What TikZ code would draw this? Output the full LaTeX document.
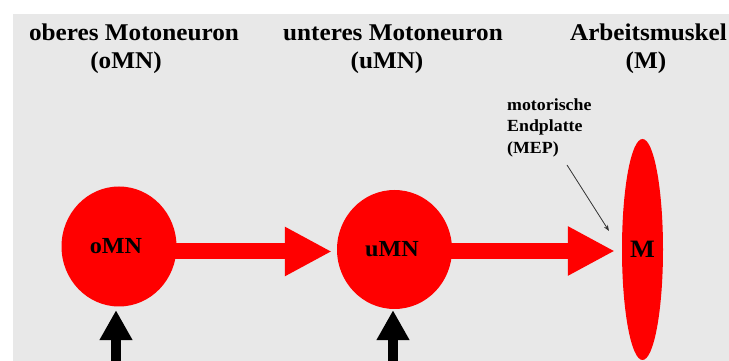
\documentclass[tikz,border=0pt]{standalone}
\usepackage{fontspec}
\usepackage{graphicx}
\setmainfont{Liberation Serif}
\usetikzlibrary{arrows.meta,shapes.geometric,backgrounds}

\definecolor{panelgrey}{HTML}{E8E8E8}
\definecolor{signalred}{HTML}{FF0000}
\definecolor{pointergrey}{HTML}{333333}

% bold serif lettering, slightly widened
\newcommand{\wideText}[1]{\scalebox{1.05}[1]{#1}}

\begin{document}
\begin{tikzpicture}[x=1pt,y=1pt,
  headfont/.style={font=\fontsize{24}{28}\selectfont\bfseries, inner sep=0pt},
  smallfont/.style={font=\fontsize{17}{21.5}\selectfont\bfseries, inner sep=0pt},
  cell/.style={ellipse, fill=signalred, inner sep=0pt,
    minimum width=115pt, minimum height=120pt,
    font=\fontsize{23}{27}\selectfont\bfseries},
  muscle/.style={ellipse, fill=signalred, inner sep=0pt,
    minimum width=41pt, minimum height=221pt,
    font=\fontsize{25}{29}\selectfont\bfseries},
  redarrow/.style={draw=signalred, line width=16pt,
    -{Triangle[length=47pt,width=46pt]}},
  inputarrow/.style={draw=black, line width=10pt,
    -{Triangle[length=30pt,width=31pt]}},
  pointer/.style={draw=pointergrey, line width=0.8pt,
    -{Stealth[length=6pt,width=4.5pt]}}
]
\useasboundingbox (0,0) rectangle (729,361);

% grey panel
\begin{scope}[on background layer]
  \fill[panelgrey] (13,0) rectangle (729,347);
\end{scope}

% headings
\node[headfont, anchor=base] (h1a) at (134,320) {\wideText{oberes Motoneuron}};
\node[headfont, anchor=base] (h1b) at (126,292) {\wideText{(oMN)}};
\node[headfont, anchor=base] (h2a) at (393,320) {\wideText{unteres Motoneuron}};
\node[headfont, anchor=base] (h2b) at (387,292) {\wideText{(uMN)}};
\node[headfont, anchor=base] (h3a) at (648.5,320) {\wideText{Arbeitsmuskel}};
\node[headfont, anchor=base] (h3b) at (646,292) {\wideText{(M)}};

% neurons and muscle
\node[cell] (o) at (119,114.5) {\hspace*{-6pt}\wideText{oMN}};
\node[cell, minimum height=119pt] (u) at (394.5,111.5) {\hspace*{-5pt}\wideText{uMN}};
\node[muscle] (m) at (642.5,111.5) {\wideText{M}};

% signal path
\begin{scope}[on background layer]
  \draw[redarrow] ([yshift=-5pt]o.center) -- ([shift={(-5pt,-2pt)}]u.west);
  \draw[redarrow] ([yshift=-1.5pt]u.center) -- ([shift={(-7pt,-1.5pt)}]m.west);
\end{scope}

% inputs from below
\coordinate (oin) at (116,0);
\coordinate (uin) at (393,0);
\draw[inputarrow, shorten >=3.5pt] (oin) -- (oin |- o.south);
\draw[inputarrow, shorten >=1pt] (uin) -- (uin |- u.south);

% end plate label
\node[smallfont, anchor=north west, align=left] (mep) at (507,262.5)
  {\wideText{motorische}\\\wideText{Endplatte}\\\wideText{(MEP)}};
\coordinate (mepstart) at (567,196);
\coordinate (mepend) at (609,130);
\draw[pointer] (mepstart) -- (mepend);
\end{tikzpicture}
\end{document}
